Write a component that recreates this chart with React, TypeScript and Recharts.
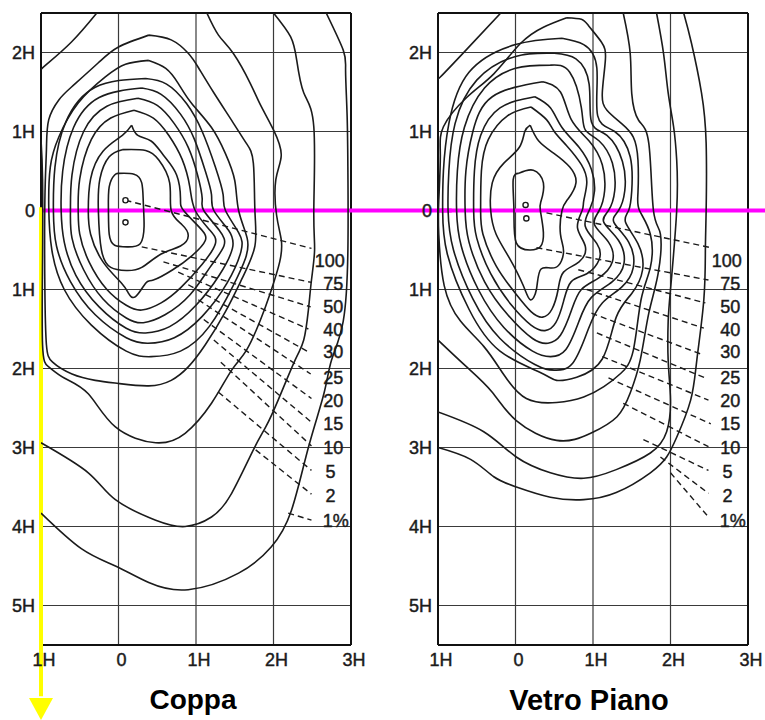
import React from "react";
import { CartesianGrid, ReferenceDot, ReferenceLine, Scatter, ScatterChart, XAxis, YAxis } from "recharts";

type Pt = [number, number];

const INK = "#1b1b1b";
const GRID = "#3a3a3a";
const FONT = "Arial, 'Liberation Sans', sans-serif";

// axis ticks (H units, y grows upward)
const xTicks = [-1, 0, 1, 2, 3];
const yTicks = [2, 1, 0, -1, -2, -3, -4, -5];

// isolux levels, label anchor (right end) and height
const levels = ["100", "75", "50", "40", "30", "25", "20", "15", "10", "5", "2", "1%"];
const labelX = [2.92, 2.9, 2.9, 2.9, 2.9, 2.9, 2.9, 2.9, 2.9, 2.8, 2.8, 2.97];
const labelY = [-0.63, -0.92, -1.22, -1.51, -1.79, -2.11, -2.41, -2.7, -3.0, -3.31, -3.61, -3.93];

// ---------- Coppa ----------
const coppa100: Pt[] = [[0.0, 0.47], [0.2, 0.46], [0.3, 0.35], [0.32, 0.1], [0.33, -0.2], [0.28, -0.42], [0.12, -0.46], [-0.05, -0.44], [-0.12, -0.3], [-0.13, 0.0], [-0.12, 0.3], [-0.05, 0.45], [0.0, 0.47]];
const coppa75: Pt[] = [[0.05, 0.77], [0.35, 0.76], [0.52, 0.64], [0.66, 0.35], [0.68, 0.0], [0.82, -0.18], [0.9, -0.32], [0.8, -0.45], [0.55, -0.55], [0.3, -0.72], [0.1, -0.76], [-0.1, -0.72], [-0.22, -0.5], [-0.26, 0.0], [-0.24, 0.4], [-0.12, 0.68], [0.05, 0.77]];
const coppa50: Pt[] = [[0.17, 1.08], [0.25, 0.95], [0.42, 0.88], [0.58, 0.7], [0.75, 0.45], [0.8, 0.15], [0.84, 0.0], [1.05, -0.22], [1.12, -0.38], [0.95, -0.57], [0.7, -0.75], [0.45, -0.88], [0.35, -0.92], [0.22, -1.09], [0.13, -1.05], [0.04, -0.92], [-0.2, -0.65], [-0.36, -0.3], [-0.39, 0.0], [-0.36, 0.4], [-0.2, 0.75], [0.05, 0.95], [0.17, 1.08]];
const coppa40: Pt[] = [[0.2, 1.27], [0.45, 1.17], [0.65, 0.95], [0.82, 0.65], [0.92, 0.3], [0.99, 0.0], [1.18, -0.25], [1.25, -0.42], [1.08, -0.68], [0.8, -0.98], [0.55, -1.17], [0.3, -1.26], [0.1, -1.2], [-0.15, -1.0], [-0.38, -0.65], [-0.5, -0.3], [-0.52, 0.0], [-0.5, 0.4], [-0.35, 0.9], [-0.1, 1.17], [0.2, 1.27]];
const coppa30: Pt[] = [[0.25, 1.42], [0.5, 1.33], [0.72, 1.1], [0.9, 0.8], [1.02, 0.45], [1.08, 0.15], [1.1, 0.0], [1.3, -0.25], [1.36, -0.45], [1.18, -0.72], [0.92, -1.07], [0.6, -1.32], [0.32, -1.42], [0.1, -1.36], [-0.2, -1.12], [-0.45, -0.75], [-0.6, -0.35], [-0.62, 0.0], [-0.6, 0.45], [-0.45, 1.0], [-0.15, 1.32], [0.25, 1.42]];
const coppa25: Pt[] = [[0.3, 1.55], [0.55, 1.47], [0.8, 1.22], [0.98, 0.9], [1.12, 0.5], [1.2, 0.2], [1.23, 0.0], [1.42, -0.25], [1.47, -0.48], [1.3, -0.82], [1.0, -1.2], [0.66, -1.47], [0.35, -1.55], [0.1, -1.49], [-0.25, -1.22], [-0.55, -0.82], [-0.7, -0.4], [-0.74, 0.0], [-0.72, 0.5], [-0.58, 1.05], [-0.25, 1.43], [0.3, 1.55]];
const coppa20: Pt[] = [[0.35, 1.67], [0.62, 1.6], [0.88, 1.35], [1.08, 1.0], [1.25, 0.55], [1.35, 0.2], [1.38, 0.0], [1.55, -0.28], [1.58, -0.52], [1.4, -0.92], [1.08, -1.34], [0.72, -1.61], [0.38, -1.68], [0.1, -1.61], [-0.3, -1.32], [-0.62, -0.9], [-0.8, -0.45], [-0.84, 0.0], [-0.82, 0.55], [-0.68, 1.12], [-0.3, 1.56], [0.35, 1.67]];
const coppa15: Pt[] = [[0.39, 1.9], [0.61, 1.8], [0.77, 1.61], [0.94, 1.36], [1.2, 1.05], [1.38, 0.72], [1.5, 0.38], [1.55, 0.0], [1.66, -0.35], [1.64, -0.6], [1.48, -0.95], [1.17, -1.47], [0.8, -1.78], [0.42, -1.85], [0.1, -1.78], [-0.35, -1.45], [-0.7, -1.0], [-0.86, -0.5], [-0.9, 0.04], [-0.88, 0.55], [-0.77, 0.93], [-0.52, 1.36], [-0.17, 1.69], [0.09, 1.85], [0.39, 1.9]];
const coppa10: Pt[] = [[0.39, 2.22], [0.68, 2.16], [0.9, 1.99], [1.03, 1.81], [1.23, 1.49], [1.48, 1.11], [1.65, 0.85], [1.74, 0.6], [1.76, 0.0], [1.76, -0.45], [1.6, -0.85], [1.38, -1.28], [1.12, -1.7], [0.9, -1.98], [0.68, -2.15], [0.39, -2.22], [0.0, -2.19], [-0.3, -2.15], [-0.6, -2.07], [-0.85, -1.92], [-0.93, -1.7], [-0.95, -1.0], [-0.95, 0.13], [-0.93, 0.77], [-0.9, 1.15], [-0.77, 1.4], [-0.61, 1.56], [-0.26, 1.87], [0.0, 2.07], [0.39, 2.22]];
const coppa5: Pt[] = [[-1.0, 0.9], [-0.98, 0.4], [-0.98, -0.6], [-0.98, -1.7], [-0.9, -1.98], [-0.7, -2.12], [-0.39, -2.32], [-0.04, -2.74], [0.48, -2.94], [0.86, -2.82], [1.2, -2.44], [1.46, -2.02], [1.65, -1.77], [1.83, -1.39], [1.96, -1.04], [2.08, -0.65], [2.1, -0.37], [2.04, -0.06], [2.03, 0.39], [2.1, 0.7], [2.0, 1.02], [1.83, 1.34], [1.7, 1.61], [1.48, 1.99], [1.29, 2.22], [1.14, 2.5]];
const coppa2: Pt[] = [[-1.0, -2.94], [-0.39, -3.32], [-0.04, -3.66], [0.48, -3.92], [0.86, -4.0], [1.2, -3.88], [1.46, -3.58], [1.74, -3.03], [1.9, -2.74], [2.06, -2.4], [2.28, -1.89], [2.39, -1.64], [2.45, -1.26], [2.49, -0.88], [2.53, -0.5], [2.52, 0.0], [2.52, 1.06], [2.39, 1.49], [2.3, 1.9], [2.22, 2.2], [2.0, 2.5]];
const coppa2Top: Pt[] = [[-0.28, 2.5], [-0.61, 2.13], [-0.94, 1.84], [-1.0, 1.78]];
const coppa1: Pt[] = [[-1.0, -3.83], [-0.48, -4.28], [-0.04, -4.5], [0.39, -4.71], [0.9, -4.8], [1.55, -4.59], [1.97, -4.26], [2.23, -3.8], [2.45, -3.0], [2.65, -2.32], [2.75, -1.89], [2.9, -1.4], [2.96, -0.5], [2.96, 0.5], [2.95, 1.2], [2.93, 1.77], [2.9, 2.03], [2.68, 2.5]];
const coppaDots: Pt[] = [[0.09, 0.13], [0.09, -0.15]];
const coppaLeaderFrom: Pt[] = [[0.09, 0.13], [0.3, -0.46], [0.58, -0.65], [0.77, -0.78], [0.9, -0.94], [1.03, -1.13], [1.1, -1.38], [1.23, -1.64], [1.32, -1.92], [1.29, -2.3], [1.77, -3.03], [2.19, -3.83]];
const coppaLeaderTo: Pt[] = [[2.49, -0.48], [2.49, -0.91], [2.48, -1.22], [2.45, -1.5], [2.45, -1.79], [2.48, -2.07], [2.49, -2.38], [2.49, -2.68], [2.49, -2.98], [2.49, -3.29], [2.49, -3.59], [2.49, -3.92]];

// ---------- Vetro Piano ----------
const vetro100: Pt[] = [[0.04, 0.47], [0.23, 0.51], [0.36, 0.35], [0.33, 0.12], [0.32, 0.0], [0.36, -0.28], [0.32, -0.46], [0.19, -0.5], [0.01, -0.41], [-0.02, 0.0], [-0.03, 0.39], [0.04, 0.47]];
const vetro75: Pt[] = [[0.19, 1.08], [0.3, 0.88], [0.5, 0.72], [0.7, 0.55], [0.78, 0.35], [0.68, 0.15], [0.6, 0.0], [0.58, -0.3], [0.62, -0.52], [0.52, -0.72], [0.33, -0.74], [0.27, -1.0], [0.19, -1.13], [0.1, -0.95], [-0.08, -0.6], [-0.25, -0.3], [-0.32, 0.0], [-0.3, 0.35], [-0.15, 0.6], [0.05, 0.8], [0.12, 1.0], [0.19, 1.08]];
const vetro50: Pt[] = [[0.2, 1.31], [0.4, 1.15], [0.5, 1.0], [0.66, 0.82], [0.85, 0.58], [0.92, 0.35], [0.88, 0.12], [0.86, 0.0], [0.8, -0.22], [0.9, -0.45], [0.82, -0.65], [0.62, -0.78], [0.55, -1.0], [0.47, -1.25], [0.35, -1.35], [0.2, -1.28], [0.0, -1.05], [-0.25, -0.7], [-0.42, -0.3], [-0.45, 0.0], [-0.44, 0.5], [-0.35, 0.9], [-0.1, 1.2], [0.2, 1.31]];
const vetro40: Pt[] = [[0.25, 1.44], [0.45, 1.3], [0.6, 1.05], [0.82, 0.8], [0.98, 0.52], [1.02, 0.25], [0.96, 0.02], [0.9, -0.2], [1.05, -0.42], [1.08, -0.62], [0.92, -0.8], [0.72, -0.9], [0.62, -1.15], [0.52, -1.42], [0.38, -1.52], [0.2, -1.45], [-0.05, -1.2], [-0.32, -0.8], [-0.5, -0.35], [-0.54, 0.0], [-0.53, 0.5], [-0.45, 0.95], [-0.2, 1.3], [0.25, 1.44]];
const vetro30: Pt[] = [[0.35, 1.63], [0.58, 1.5], [0.72, 1.15], [0.95, 0.88], [1.12, 0.58], [1.15, 0.25], [1.08, 0.0], [1.02, -0.18], [1.2, -0.4], [1.25, -0.65], [1.08, -0.85], [0.85, -1.0], [0.72, -1.27], [0.58, -1.58], [0.42, -1.68], [0.22, -1.62], [-0.1, -1.32], [-0.4, -0.9], [-0.6, -0.4], [-0.65, 0.0], [-0.64, 0.5], [-0.55, 1.0], [-0.3, 1.44], [0.35, 1.63]];
const vetro25: Pt[] = [[0.45, 1.84], [0.7, 1.75], [0.85, 1.3], [0.9, 1.02], [1.08, 0.88], [1.25, 0.6], [1.28, 0.25], [1.2, 0.0], [1.14, -0.15], [1.33, -0.38], [1.4, -0.67], [1.25, -0.9], [0.98, -1.1], [0.82, -1.4], [0.65, -1.76], [0.45, -1.85], [0.22, -1.78], [-0.15, -1.48], [-0.48, -1.0], [-0.7, -0.45], [-0.76, 0.0], [-0.75, 0.5], [-0.66, 1.05], [-0.4, 1.55], [0.0, 1.8], [0.45, 1.84]];
const vetro20: Pt[] = [[0.5, 1.99], [0.78, 1.92], [0.95, 1.6], [0.98, 1.12], [1.18, 0.95], [1.38, 0.62], [1.41, 0.25], [1.33, 0.0], [1.27, -0.15], [1.46, -0.4], [1.52, -0.72], [1.37, -0.97], [1.12, -1.17], [0.94, -1.5], [0.74, -1.93], [0.5, -2.02], [0.25, -1.95], [-0.2, -1.62], [-0.55, -1.12], [-0.8, -0.5], [-0.87, 0.0], [-0.86, 0.5], [-0.78, 1.1], [-0.5, 1.65], [0.0, 1.95], [0.5, 1.99]];
const vetro15: Pt[] = [[0.6, 2.18], [0.88, 2.1], [1.05, 1.8], [1.06, 1.2], [1.28, 1.0], [1.48, 0.68], [1.5, 0.25], [1.46, 0.0], [1.42, -0.15], [1.58, -0.42], [1.64, -0.75], [1.5, -1.05], [1.3, -1.35], [1.12, -1.88], [0.79, -2.11], [0.53, -2.15], [0.32, -2.05], [-0.2, -1.78], [-0.6, -1.25], [-0.88, -0.55], [-0.94, 0.0], [-0.93, 0.5], [-0.86, 1.1], [-0.6, 1.75], [0.0, 2.1], [0.6, 2.18]];
const vetro10: Pt[] = [[0.66, 2.44], [0.85, 2.42], [0.95, 2.33], [1.11, 2.13], [1.16, 1.91], [1.12, 1.49], [1.18, 1.27], [1.37, 1.1], [1.52, 0.93], [1.58, 0.64], [1.58, 0.22], [1.6, 0.0], [1.74, -0.3], [1.74, -0.72], [1.62, -1.13], [1.52, -1.77], [1.36, -2.06], [1.14, -2.23], [0.88, -2.36], [0.53, -2.43], [0.14, -2.38], [-0.15, -2.08], [-0.41, -1.72], [-0.71, -1.4], [-0.92, -0.95], [-0.99, -0.3], [-0.99, 0.13], [-0.97, 0.7], [-0.93, 1.06], [-0.63, 1.43], [-0.28, 1.73], [0.06, 2.11], [0.36, 2.32], [0.66, 2.44]];
const vetro5: Pt[] = [[-1.0, -1.64], [-0.63, -1.98], [-0.3, -2.3], [0.01, -2.66], [0.53, -2.91], [0.97, -2.82], [1.31, -2.61], [1.48, -2.31], [1.61, -1.89], [1.72, -1.3], [1.84, -0.8], [1.87, -0.3], [1.78, 0.0], [1.72, 0.85], [1.59, 1.14], [1.5, 1.48], [1.48, 1.99], [1.39, 2.5]];
const vetro5Top: Pt[] = [[-0.19, 2.5], [-0.63, 2.04], [-0.97, 1.69], [-1.0, 1.68]];
const vetro2: Pt[] = [[-1.0, -2.55], [-0.41, -2.8], [0.01, -3.12], [0.45, -3.32], [0.88, -3.39], [1.3, -3.28], [1.74, -3.07], [1.95, -2.8], [2.0, -2.4], [1.97, -1.9], [1.97, -1.4], [2.0, -1.0], [2.08, 0.0], [2.08, 0.64], [2.04, 1.06], [1.97, 1.49], [1.91, 1.99], [1.82, 2.5]];
const vetro1: Pt[] = [[-1.0, -3.0], [-0.58, -3.15], [-0.28, -3.37], [0.01, -3.5], [0.45, -3.63], [0.88, -3.66], [1.3, -3.57], [1.74, -3.32], [1.95, -3.12], [2.08, -2.87], [2.26, -2.4], [2.34, -1.89], [2.43, -1.13], [2.45, -0.5], [2.46, 0.0], [2.46, 0.85], [2.4, 1.49], [2.27, 2.12], [2.17, 2.5]];
const vetroDots: Pt[] = [[0.13, 0.07], [0.14, -0.1]];
const vetroLeaderFrom: Pt[] = [[0.4, -0.03], [0.27, -0.47], [0.81, -0.75], [0.92, -1.0], [0.98, -1.3], [1.05, -1.55], [1.12, -1.85], [1.2, -2.12], [1.39, -2.44], [1.65, -2.9], [1.87, -3.12], [2.0, -3.32]];
const vetroLeaderTo: Pt[] = [[2.52, -0.47], [2.49, -0.88], [2.45, -1.17], [2.43, -1.49], [2.4, -1.82], [2.45, -2.12], [2.49, -2.4], [2.52, -2.7], [2.49, -2.99], [2.49, -3.29], [2.49, -3.58], [2.49, -3.88]];

const coppaCurves = [coppa100, coppa75, coppa50, coppa40, coppa30, coppa25, coppa20, coppa15, coppa10, coppa5, coppa2, coppa2Top, coppa1];
const vetroCurves = [vetro100, vetro75, vetro50, vetro40, vetro30, vetro25, vetro20, vetro15, vetro10, vetro5, vetro5Top, vetro2, vetro1];

const toPts = (arr: Pt[]) => arr.map(([x, y]) => ({ x, y }));
const fmtH = (v: number) => (v === 0 ? "0" : `${Math.abs(v)}H`);
const noDot = () => <g />;
const tickStyle = { fill: INK, stroke: INK, strokeWidth: 0.45, fontSize: 18, fontFamily: FONT };

const labelShape = (p: any) => (
  <text x={p.cx} y={p.cy} dy="0.36em" textAnchor="end" fontSize={18} fontFamily={FONT} fill={INK} stroke={INK} strokeWidth={0.45}>
    {p.payload?.label}
  </text>
);
const ringShape = (p: any) => <circle cx={p.cx} cy={p.cy} r={2.6} fill="#fff" stroke={INK} strokeWidth={1.4} />;

function Panel({ curves, dots, from, to, left, right, arrow, magentaTo }: any) {
  const labels = levels.map((label, i) => ({ x: labelX[i], y: labelY[i], label }));
  return (
    <div style={{ position: "absolute", left: 0, top: 0 }}>
      <ScatterChart width={765} height={720} margin={{ top: 13, right, bottom: 45, left }}>
        <CartesianGrid stroke={GRID} strokeWidth={1.2} />
        <XAxis
          type="number"
          dataKey="x"
          domain={[-1, 3]}
          ticks={xTicks}
          interval={0}
          allowDataOverflow
          axisLine={false}
          tickLine={false}
          height={30}
          tickMargin={2}
          tickFormatter={fmtH}
          tick={{ ...tickStyle, dx: 3 }}
        />
        <YAxis
          type="number"
          dataKey="y"
          domain={[-5.5, 2.5]}
          ticks={yTicks}
          interval={0}
          allowDataOverflow
          axisLine={false}
          tickLine={false}
          width={35}
          tickMargin={0}
          tickFormatter={fmtH}
          tick={tickStyle}
        />
        <ReferenceLine x={-1} stroke="#111" strokeWidth={2} />
        <ReferenceLine x={3} stroke="#111" strokeWidth={2} />
        <ReferenceLine y={2.5} stroke="#111" strokeWidth={2} />
        <ReferenceLine y={-5.5} stroke="#111" strokeWidth={2} />
        {curves.map((c: Pt[], i: number) => (
          <Scatter
            key={`c${i}`}
            data={toPts(c)}
            line={{ stroke: INK, strokeWidth: 1.6 }}
            lineJointType="natural"
            shape={noDot}
            isAnimationActive={false}
          />
        ))}
        {from.map((f: Pt, i: number) => (
          <Scatter
            key={`l${i}`}
            data={toPts([f, to[i]])}
            line={{ stroke: INK, strokeWidth: 1.4, strokeDasharray: "6 4" }}
            shape={noDot}
            isAnimationActive={false}
          />
        ))}
        <Scatter data={toPts(dots)} shape={ringShape} isAnimationActive={false} />
        <Scatter data={labels} shape={labelShape} isAnimationActive={false} />
        <ReferenceLine
          segment={[{ x: -1, y: 0 }, { x: magentaTo, y: 0 }]}
          stroke="#ff00ff"
          strokeWidth={4}
          ifOverflow="visible"
        />
        {arrow && (
          <ReferenceLine
            segment={[{ x: -1, y: 0.04 }, { x: -1, y: -6.15 }]}
            stroke="#ffff00"
            strokeWidth={4}
            ifOverflow="visible"
          />
        )}
        {arrow && (
          <ReferenceDot
            x={-1}
            y={-6.45}
            ifOverflow="visible"
            shape={(p: any) => (
              <polygon points={`${p.cx - 12},${p.cy - 22} ${p.cx + 12},${p.cy - 22} ${p.cx},${p.cy}`} fill="#ffff00" />
            )}
          />
        )}
      </ScatterChart>
    </div>
  );
}

export default function App() {
  const title: React.CSSProperties = {
    position: "absolute",
    top: 686,
    width: 240,
    textAlign: "center",
    fontFamily: FONT,
    fontWeight: 700,
    fontSize: 28,
    lineHeight: "28px",
    color: "#000",
  };
  return (
    <div style={{ position: "absolute", left: 0, top: 0, width: 765, height: 720, background: "#fff", overflow: "hidden" }}>
      <Panel curves={coppaCurves} dots={coppaDots} from={coppaLeaderFrom} to={coppaLeaderTo} left={6} right={414} arrow magentaTo={4.3} />
      <Panel curves={vetroCurves} dots={vetroDots} from={vetroLeaderFrom} to={vetroLeaderTo} left={403} right={17} arrow={false} magentaTo={3.25} />
      <div style={{ ...title, left: 193 - 120 }}>Coppa</div>
      <div style={{ ...title, left: 589 - 120, fontSize: 29 }}>Vetro Piano</div>
    </div>
  );
}
